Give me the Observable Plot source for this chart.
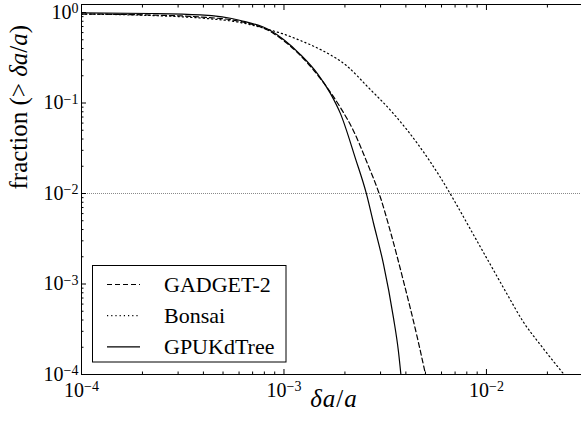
<!DOCTYPE html>
<html><head><meta charset="utf-8">
<script src="https://cdn.jsdelivr.net/npm/d3@7"></script>
<script src="https://cdn.jsdelivr.net/npm/@observablehq/plot@0.6"></script>
<style>
html,body{margin:0;padding:0;background:#fff;overflow:hidden;}
#chart svg{display:block;max-width:none !important;}
</style></head><body><div id="chart"></div>
<script>
// ---- data (x = δa/a, y = fraction > δa/a) ----
const gadgetX = [1e-4, 2.19e-4, 3.87e-4, 6.10e-4, 8.57e-4, 9.95e-4, 1.206e-3, 1.514e-3, 1.901e-3, 2.203e-3, 2.584e-3, 2.998e-3, 3.36e-3, 3.89e-3, 4.56e-3, 5.0e-3];
const gadgetY = [0.962, 0.938, 0.892, 0.795, 0.616, 0.49, 0.334, 0.186, 0.0889, 0.0495, 0.0214, 0.00899, 0.00375, 0.00108, 2.54e-4, 1.0e-4];

const bonsaiX = [1e-4, 2.19e-4, 3.87e-4, 6.10e-4, 8.57e-4, 9.95e-4, 1.205e-3, 1.514e-3, 2.06e-3, 2.584e-3, 3.474e-3, 4.72e-3, 5.93e-3, 7.03e-3, 8.63e-3, 1.047e-2, 1.27e-2, 1.52e-2, 1.85e-2, 2.40e-2];
const bonsaiY = [0.962, 0.927, 0.869, 0.775, 0.64, 0.578, 0.490, 0.390, 0.253, 0.152, 0.0763, 0.0321, 0.0150, 0.00791, 0.00350, 0.00163, 7.60e-4, 3.82e-4, 2.12e-4, 1.02e-4];

const gpuX = [1e-4, 2.19e-4, 3.87e-4, 6.10e-4, 8.57e-4, 9.95e-4, 1.206e-3, 1.463e-3, 1.698e-3, 1.901e-3, 2.255e-3, 2.553e-3, 2.765e-3, 3.099e-3, 3.474e-3, 3.674e-3, 3.78e-3];
const gpuY = [0.99, 0.975, 0.94, 0.816, 0.632, 0.503, 0.343, 0.2115, 0.127, 0.0763, 0.0243, 0.00995, 0.00475, 0.00167, 4.23e-4, 1.82e-4, 1.0e-4];

const seriesNames = ["GADGET-2", "Bonsai", "GPUKdTree"];
const thresholdY = [1e-2];

const xMajorTicks = [1e-4, 1e-3, 1e-2];
const yMajorTicks = [1e-4, 1e-3, 1e-2, 1e-1, 1];
const xTickLabels = ["10^-4", "10^-3", "10^-2"];
const yTickLabels = ["10^-4", "10^-3", "10^-2", "10^-1", "10^0"];
const xTitle = "δa/a";
const yTitle = "fraction (> δa/a)";

// ---- build tables ----
const toRows = (xs, ys, name) => xs.map((x, i) => ({series: name, x, y: ys[i]}));
const gadget = toRows(gadgetX, gadgetY, seriesNames[0]);
const bonsai = toRows(bonsaiX, bonsaiY, seriesNames[1]);
const gpu = toRows(gpuX, gpuY, seriesNames[2]);

const xDomain = [1e-4, 0.0312];
const yDomain = [1e-4, 1.226];
const minors = (lo, hi) => d3.range(-5, 2).flatMap(e => d3.range(2, 10).map(m => +(m * Math.pow(10, e)).toPrecision(3))).filter(v => v > lo && v < hi);
const xMinor = minors(xDomain[0], xDomain[1]);
const yMinor = minors(yDomain[0], yDomain[1]);

const FONT = "'Liberation Serif', serif";
const fmtX = d => xTickLabels[xMajorTicks.indexOf(d)];
const fmtY = d => yTickLabels[yMajorTicks.indexOf(d)];

const MAJ = 5, MIN = 2.5;
const CURVE = "monotone-x";

const plot = Plot.plot({
  width: 586,
  height: 425,
  marginLeft: 81,
  marginRight: 0,
  marginTop: 4,
  marginBottom: 51,
  x: {type: "log", domain: xDomain},
  y: {type: "log", domain: yDomain},
  marks: [
    Plot.ruleY(thresholdY, {stroke: "#8a8a8a", strokeWidth: 1, strokeDasharray: "1,1"}),
    Plot.line(gadget, {x: "x", y: "y", stroke: "black", strokeWidth: 1.2, strokeDasharray: "5,3", curve: CURVE, clip: true}),
    Plot.line(bonsai, {x: "x", y: "y", stroke: "black", strokeWidth: 1.2, strokeDasharray: "1.2,3", curve: CURVE, clip: true}),
    Plot.line(gpu, {x: "x", y: "y", stroke: "black", strokeWidth: 1.2, curve: CURVE, clip: true}),
    // inward ticks on all four sides
    Plot.axisX(xMajorTicks, {anchor: "bottom", tickSize: MAJ, dy: -MAJ, fill: "none", label: null}),
    Plot.axisX(xMinor, {anchor: "bottom", tickSize: MIN, dy: -MIN, fill: "none", label: null}),
    Plot.axisX(xMajorTicks, {anchor: "top", tickSize: MAJ, dy: MAJ, fill: "none", label: null}),
    Plot.axisX(xMinor, {anchor: "top", tickSize: MIN, dy: MIN, fill: "none", label: null}),
    Plot.axisY(yMajorTicks, {anchor: "left", tickSize: MAJ, dx: MAJ, fill: "none", label: null}),
    Plot.axisY(yMinor, {anchor: "left", tickSize: MIN, dx: MIN, fill: "none", label: null}),
    Plot.axisY(yMajorTicks, {anchor: "right", tickSize: MAJ, dx: -MAJ, fill: "none", label: null}),
    Plot.axisY(yMinor, {anchor: "right", tickSize: MIN, dx: -MIN, fill: "none", label: null}),
    // tick labels
    Plot.axisX(xMajorTicks, {anchor: "bottom", tickSize: 0, tickPadding: 8, tickFormat: fmtX, fontSize: 20, label: null}),
    Plot.axisY(yMajorTicks, {anchor: "left", tickSize: 0, tickPadding: 3, tickFormat: fmtY, fontSize: 20, label: null}),
    // axis titles
    Plot.text([xTitle], {frameAnchor: "bottom", dy: 32, fontSize: 25}),
    Plot.text([yTitle], {frameAnchor: "left", rotate: -90, dx: -63, fontSize: 25}),
    Plot.frame({stroke: "black", strokeWidth: 1})
  ]
});

const svg = d3.select(plot);
svg.attr("font-family", FONT);
// superscript exponents in tick labels
svg.selectAll('g[aria-label="x-axis tick label"] text, g[aria-label="y-axis tick label"] text').each(function () {
  const t = this.textContent;
  if (!t.includes("^")) return;
  const [base, exp] = t.split("^");
  const sel = d3.select(this);
  sel.text(base);
  sel.append("tspan").attr("dy", "-0.42em").attr("font-size", 14).text(exp.replace("-", "−"));
});
// italic math parts in titles
svg.selectAll("text").each(function () {
  const sel = d3.select(this);
  const t = this.textContent;
  if (t === yTitle) {
    sel.text("fraction (> ");
    sel.append("tspan").style("font-style", "italic").text("δa");
    sel.append("tspan").text("/");
    sel.append("tspan").style("font-style", "italic").text("a");
    sel.append("tspan").text(")");
  } else if (t === xTitle) {
    sel.text("").attr("letter-spacing", 1);
    sel.append("tspan").style("font-style", "italic").text("δa");
    sel.append("tspan").text("/");
    sel.append("tspan").style("font-style", "italic").text("a");
  }
});

// legend box (inside plot area, lower left)
const legend = svg.append("g").attr("aria-label", "legend").attr("font-size", 22).attr("text-anchor", "start");
legend.append("rect").attr("x", 92.5).attr("y", 265.5).attr("width", 193.5).attr("height", 96.5)
  .attr("fill", "white").attr("stroke", "black").attr("stroke-width", 1);
const legendDash = ["5,3", "1.2,3", null];
seriesNames.forEach((name, i) => {
  const yy = 284.5 + i * 31.2;
  legend.append("line").attr("x1", 107).attr("x2", 140).attr("y1", yy).attr("y2", yy)
    .attr("stroke", "black").attr("stroke-width", 1.2).attr("stroke-dasharray", legendDash[i]);
  legend.append("text").attr("x", 164).attr("y", yy).attr("dy", "0.34em").attr("fill", "black").text(name);
});

document.getElementById("chart").appendChild(plot);

// force style/layout resolution of every text so the serif face is picked up before the first paint
plot.querySelectorAll("text").forEach(el => { getComputedStyle(el).fontFamily; try { el.getBBox(); } catch (e) {} });
if (document.fonts && document.fonts.load) {
  Promise.all([
    document.fonts.load("20px 'Liberation Serif'"),
    document.fonts.load("italic 25px 'Liberation Serif'")
  ]).then(() => {
    plot.setAttribute("font-family", FONT);
    plot.querySelectorAll("text").forEach(el => { getComputedStyle(el).fontFamily; });
  }).catch(() => {});
}
</script>
</body></html>
